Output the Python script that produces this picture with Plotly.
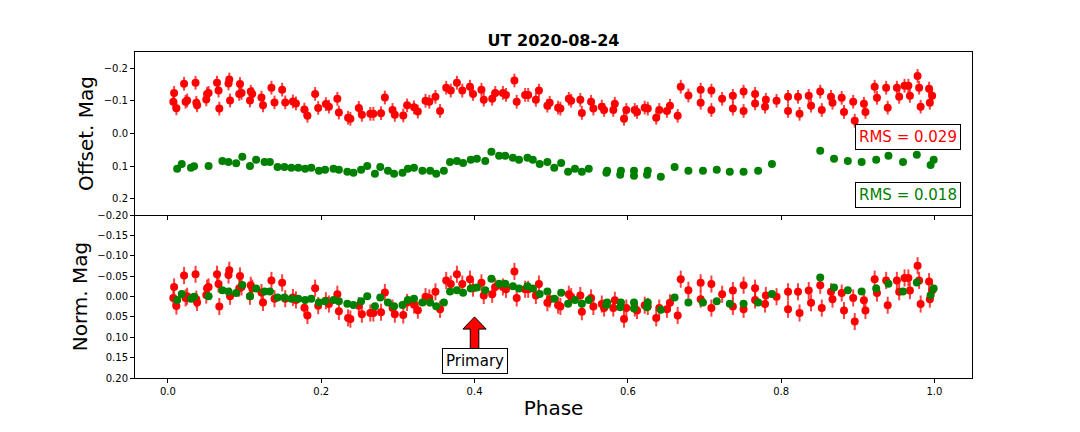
import numpy as np
import plotly.graph_objects as go
from plotly.subplots import make_subplots

# ---------------- data ----------------
red_phase = [0.007, 0.008, 0.011, 0.021, 0.023, 0.025, 0.036, 0.037, 0.038, 0.050,
             0.051, 0.053, 0.064, 0.066, 0.067, 0.079, 0.080, 0.081, 0.093, 0.094,
             0.096, 0.107, 0.108, 0.110, 0.122, 0.124, 0.135, 0.139, 0.149, 0.153,
             0.163, 0.167, 0.178, 0.182, 0.192, 0.196, 0.206, 0.210, 0.221, 0.223,
             0.235, 0.238, 0.249, 0.253, 0.264, 0.268, 0.278, 0.283, 0.293, 0.296,
             0.307, 0.312, 0.321, 0.326, 0.336, 0.341, 0.349, 0.355, 0.363, 0.369,
             0.377, 0.384, 0.394, 0.398, 0.409, 0.412, 0.423, 0.427, 0.437, 0.441,
             0.452, 0.455, 0.466, 0.470, 0.480, 0.484, 0.495, 0.498, 0.509, 0.512,
             0.523, 0.526, 0.538, 0.540, 0.552, 0.555, 0.566, 0.569, 0.581, 0.583,
             0.595, 0.598, 0.609, 0.612, 0.622, 0.626, 0.637, 0.641, 0.651, 0.655,
             0.665, 0.669, 0.679, 0.695, 0.695, 0.709, 0.709, 0.723, 0.737, 0.737,
             0.751, 0.751, 0.766, 0.766, 0.779, 0.780, 0.794, 0.809, 0.809, 0.822,
             0.824, 0.836, 0.839, 0.851, 0.853, 0.865, 0.867, 0.879, 0.882, 0.894,
             0.896, 0.908, 0.910, 0.922, 0.925, 0.937, 0.939, 0.951, 0.954, 0.961,
             0.966, 0.968, 0.978, 0.980, 0.982, 0.993, 0.994, 0.997]
red_mag = [-0.097, -0.124, -0.077, -0.152, -0.097, -0.101, -0.155, -0.094, -0.086, -0.104,
           -0.121, -0.124, -0.155, -0.131, -0.076, -0.153, -0.165, -0.101, -0.121, -0.151,
           -0.124, -0.101, -0.128, -0.121, -0.110, -0.086, -0.140, -0.095, -0.134, -0.095,
           -0.098, -0.092, -0.073, -0.054, -0.121, -0.078, -0.090, -0.082, -0.106, -0.064,
           -0.048, -0.045, -0.078, -0.057, -0.060, -0.060, -0.062, -0.110, -0.072, -0.057,
           -0.055, -0.086, -0.080, -0.067, -0.100, -0.097, -0.112, -0.069, -0.140, -0.131,
           -0.155, -0.131, -0.143, -0.121, -0.134, -0.103, -0.106, -0.124, -0.124, -0.118,
           -0.162, -0.097, -0.118, -0.118, -0.103, -0.131, -0.085, -0.094, -0.079, -0.076,
           -0.106, -0.100, -0.103, -0.063, -0.097, -0.076, -0.082, -0.072, -0.072, -0.091,
           -0.045, -0.072, -0.072, -0.066, -0.079, -0.076, -0.048, -0.072, -0.069, -0.085,
           -0.054, -0.143, -0.116, -0.134, -0.094, -0.131, -0.072, -0.106, -0.115, -0.076,
           -0.128, -0.069, -0.121, -0.092, -0.082, -0.103, -0.100, -0.112, -0.069, -0.112,
           -0.060, -0.115, -0.085, -0.128, -0.072, -0.112, -0.094, -0.109, -0.066, -0.097,
           -0.039, -0.091, -0.066, -0.143, -0.109, -0.140, -0.079, -0.140, -0.112, -0.146,
           -0.146, -0.115, -0.176, -0.140, -0.082, -0.137, -0.094, -0.115]
red_err = 0.021

green_phase = [0.012, 0.018, 0.030, 0.034, 0.053, 0.071, 0.079, 0.089, 0.097, 0.107,
               0.115, 0.126, 0.133, 0.143, 0.152, 0.161, 0.170, 0.179, 0.187, 0.197,
               0.205, 0.216, 0.223, 0.234, 0.242, 0.252, 0.260, 0.270, 0.277, 0.287,
               0.295, 0.306, 0.313, 0.321, 0.332, 0.342, 0.350, 0.360, 0.368, 0.377,
               0.385, 0.395, 0.403, 0.414, 0.422, 0.432, 0.440, 0.450, 0.458, 0.469,
               0.476, 0.485, 0.495, 0.504, 0.513, 0.522, 0.531, 0.540, 0.549, 0.572,
               0.573, 0.590, 0.591, 0.608, 0.608, 0.625, 0.626, 0.643, 0.661, 0.679,
               0.698, 0.716, 0.733, 0.751, 0.770, 0.788, 0.851, 0.869, 0.887, 0.905,
               0.924, 0.940, 0.959, 0.977, 0.995, 0.999]
green_mag = [0.108, 0.093, 0.105, 0.100, 0.099, 0.084, 0.087, 0.091, 0.071, 0.099,
             0.080, 0.087, 0.087, 0.102, 0.102, 0.105, 0.105, 0.108, 0.105, 0.114,
             0.111, 0.108, 0.111, 0.117, 0.120, 0.111, 0.099, 0.123, 0.102, 0.114,
             0.123, 0.120, 0.108, 0.105, 0.114, 0.114, 0.123, 0.114, 0.087, 0.084,
             0.090, 0.080, 0.077, 0.084, 0.056, 0.068, 0.068, 0.074, 0.080, 0.074,
             0.080, 0.093, 0.087, 0.105, 0.090, 0.117, 0.108, 0.117, 0.108, 0.120,
             0.114, 0.126, 0.114, 0.129, 0.114, 0.126, 0.114, 0.132, 0.102, 0.114,
             0.114, 0.111, 0.117, 0.117, 0.114, 0.093, 0.053, 0.077, 0.084, 0.087,
             0.080, 0.068, 0.087, 0.065, 0.096, 0.080]

rms_labels = ["RMS = 0.029", "RMS = 0.018"]
title_text = "UT 2020-08-24"
primary_phase = 0.4

# normalized magnitudes: offset minus the series mean
red_norm = list(np.array(red_mag) - np.mean(red_mag))
green_norm = list(np.array(green_mag) - np.mean(green_mag))

RED = "#ff0000"
GREEN = "#008000"
FONT = "DejaVu Sans"
MSIZE = 8

# page body has an 8px default margin; size the figure so the axes land where the reference has them
W, H = 1072, 424
ML, MR, MT, MB = 127, 108, 44, 54
plot_h = H - MT - MB

fig = make_subplots(rows=2, cols=1, shared_xaxes=True, vertical_spacing=0)

err_style = dict(type="constant", value=red_err, color="rgba(255,0,0,0.75)",
                 thickness=2, width=0)

fig.add_trace(go.Scatter(x=red_phase, y=red_mag, mode="markers",
                         marker=dict(color=RED, size=MSIZE),
                         error_y=err_style, showlegend=False), row=1, col=1)
fig.add_trace(go.Scatter(x=green_phase, y=green_mag, mode="markers",
                         marker=dict(color=GREEN, size=MSIZE), showlegend=False),
              row=1, col=1)
fig.add_trace(go.Scatter(x=red_phase, y=red_norm, mode="markers",
                         marker=dict(color=RED, size=MSIZE),
                         error_y=err_style, showlegend=False), row=2, col=1)
fig.add_trace(go.Scatter(x=green_phase, y=green_norm, mode="markers",
                         marker=dict(color=GREEN, size=MSIZE), showlegend=False),
              row=2, col=1)

axis_common = dict(showline=True, mirror=True, linecolor="black", linewidth=1,
                   ticks="outside", ticklen=4, tickwidth=1, tickcolor="black",
                   showgrid=False, zeroline=False,
                   tickfont=dict(family=FONT, size=10, color="black"))

fig.update_xaxes(**axis_common)
fig.update_yaxes(**axis_common)
fig.update_xaxes(range=[-0.043, 1.049], tickvals=[0.0, 0.2, 0.4, 0.6, 0.8, 1.0],
                 tickformat=".1f")
fig.update_xaxes(showticklabels=False, row=1, col=1)
# the shared border between the panels is drawn once, by the upper panel's x axis
fig.update_xaxes(mirror=False,
                 title=dict(text="Phase", font=dict(family=FONT, size=20, color="black"),
                            standoff=4), row=2, col=1)
fig.update_yaxes(range=[0.249, -0.249], tickvals=[-0.2, -0.1, 0.0, 0.1, 0.2],
                 tickformat=".1f",
                 title=dict(text="Offset. Mag", font=dict(family=FONT, size=20, color="black"),
                            standoff=4), row=1, col=1)
fig.update_yaxes(range=[0.2, -0.2], tickvals=[-0.2, -0.15, -0.1, -0.05, 0.0, 0.05, 0.1, 0.15, 0.2],
                 tickformat=".2f",
                 title=dict(text="Norm. Mag", font=dict(family=FONT, size=20, color="black"),
                            standoff=4), row=2, col=1)

# Primary-eclipse arrow (annotation graphic in data coords of bottom panel)
hw_head, hw_shaft = 0.0152, 0.0056
y_tip, y_head, y_base = 0.050, 0.080, 0.129
p = primary_phase
path = (f"M {p},{y_tip} L {p + hw_head},{y_head} L {p + hw_shaft},{y_head} "
        f"L {p + hw_shaft},{y_base} L {p - hw_shaft},{y_base} L {p - hw_shaft},{y_head} "
        f"L {p - hw_head},{y_head} Z")
fig.add_shape(type="path", path=path, xref="x2", yref="y2",
              fillcolor=RED, line=dict(color="black", width=1))

fig.add_annotation(x=primary_phase, y=0.158, xref="x2", yref="y2", text="Primary",
                   showarrow=False, font=dict(family=FONT, size=15, color="black"),
                   bgcolor="white", bordercolor="black", borderwidth=1, borderpad=3)

# RMS boxes: right edge 11px inside the axes, centres at y=136.5 and 194.5 px
def paper_y(py):
    return (MT + plot_h - (py - 8)) / plot_h

rms_x = (961 - 135) / (W - ML - MR)
fig.add_annotation(x=rms_x, y=paper_y(136.5), xref="paper", yref="paper", text=rms_labels[0],
                   xanchor="right", yanchor="middle", showarrow=False,
                   font=dict(family=FONT, size=15, color=RED),
                   bgcolor="white", bordercolor="black", borderwidth=1, borderpad=3)
fig.add_annotation(x=rms_x, y=paper_y(194.5), xref="paper", yref="paper", text=rms_labels[1],
                   xanchor="right", yanchor="middle", showarrow=False,
                   font=dict(family=FONT, size=15, color=GREEN),
                   bgcolor="white", bordercolor="black", borderwidth=1, borderpad=3)

fig.update_layout(
    width=W, height=H,
    margin=dict(l=ML, r=MR, t=MT, b=MB),
    paper_bgcolor="white", plot_bgcolor="white",
    title=dict(text=f"<b>{title_text}</b>", x=0.5, xref="paper",
               y=1 - 32 / H, yref="container", yanchor="middle", xanchor="center",
               font=dict(family=FONT, size=16, color="black")),
    font=dict(family=FONT, color="black"),
)

fig.write_html("out.html")
